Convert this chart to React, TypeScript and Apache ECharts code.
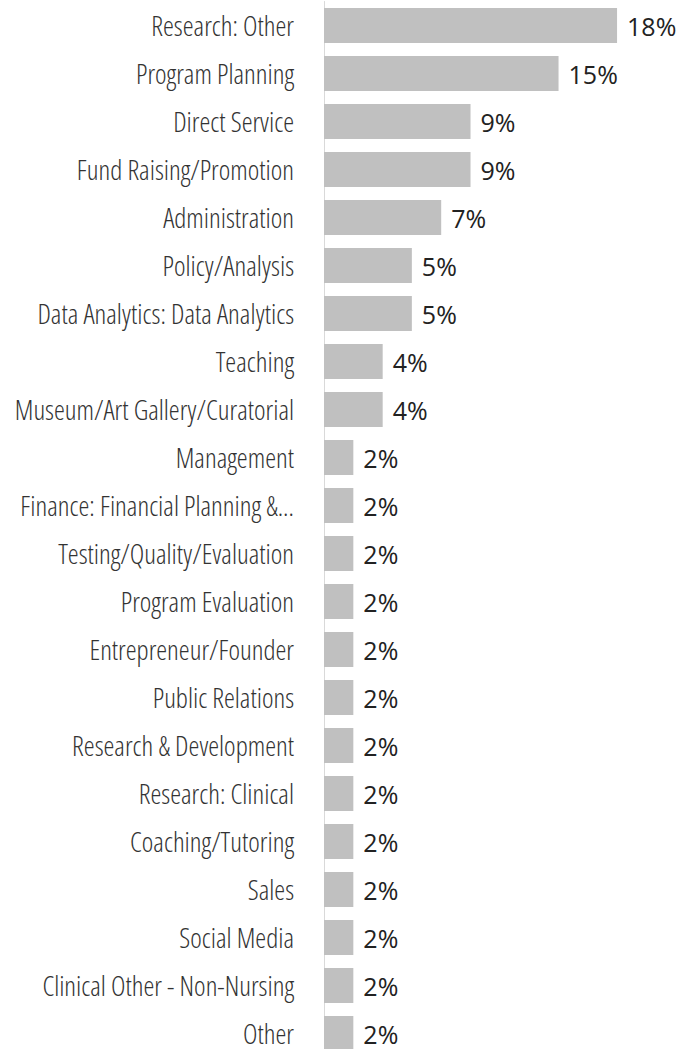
import React, { useEffect, useRef } from "react";
import * as echarts from "echarts";

const categories = [
  "Research: Other",
  "Program Planning",
  "Direct Service",
  "Fund Raising/Promotion",
  "Administration",
  "Policy/Analysis",
  "Data Analytics: Data Analytics",
  "Teaching",
  "Museum/Art Gallery/Curatorial",
  "Management",
  "Finance: Financial Planning &...",
  "Testing/Quality/Evaluation",
  "Program Evaluation",
  "Entrepreneur/Founder",
  "Public Relations",
  "Research & Development",
  "Research: Clinical",
  "Coaching/Tutoring",
  "Sales",
  "Social Media",
  "Clinical Other - Non-Nursing",
  "Other",
];

const shares = [
  18.18, 14.55, 9.09, 9.09, 7.27, 5.45, 5.45, 3.64, 3.64, 1.82, 1.82, 1.82,
  1.82, 1.82, 1.82, 1.82, 1.82, 1.82, 1.82, 1.82, 1.82, 1.82,
];

const css = `
.bar-chart svg text[text-anchor="end"] { font-stretch: 75% !important; font-weight: 300 !important; }
`;

export default function App() {
  const ref = useRef<HTMLDivElement>(null);
  useEffect(() => {
    document.body.style.margin = "0";
    const chart = echarts.init(ref.current!, null, { renderer: "svg" });
    chart.setOption({
      animation: false,
      grid: {
        left: 324,
        top: 1.5,
        width: 322.4,
        height: 1056,
        containLabel: false,
        outerBoundsMode: "none",
      },
      xAxis: { type: "value", min: 0, max: 20, show: false },
      yAxis: {
        type: "category",
        data: categories,
        inverse: true,
        axisLine: { show: true, lineStyle: { color: "#d9d9d9", width: 1 } },
        axisTick: { show: false },
        axisLabel: {
          margin: 30,
          fontSize: 27.5,
          lineHeight: 26,
          color: "#333",
          interval: 0,
          fontFamily: "'Open Sans', sans-serif",
        },
      },
      series: [
        {
          type: "bar",
          data: shares,
          barWidth: 35,
          itemStyle: { color: "#c0c0c0" },
          label: {
            show: true,
            position: "right",
            distance: 10,
            fontSize: 25,
            lineHeight: 26,
            color: "#222",
            fontFamily: "'Open Sans', sans-serif",
            formatter: (p: any) => Math.round(p.value) + "%",
          },
        },
      ],
    });
    return () => chart.dispose();
  }, []);
  return (
    <>
      <style>{css}</style>
      <div className="bar-chart" ref={ref} style={{ width: 697, height: 1049 }} />
    </>
  );
}
